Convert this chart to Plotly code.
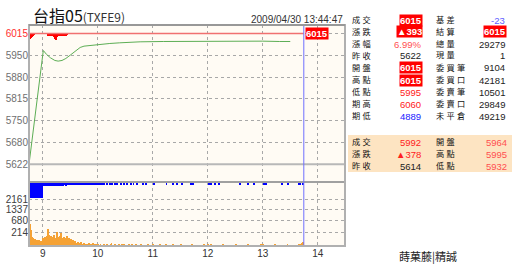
import numpy as np
import plotly.graph_objects as go

# ---------------- data ----------------
limit_price = 6015
prev_close = 5622
now_time = 13 + 44 / 60 + 47 / 3600  # 13:44:47

price_tick_labels = ["6015", "5950", "5880", "5815", "5750", "5680", "5622"]
vol_tick_labels = ["214", "680", "1337", "2161"]
x_tick_vals = [9, 10, 11, 12, 13, 14]
x_tick_labels = ["9", "10", "11", "12", "13", "14"]

# spot index line (hours, value)
green_time = [8.75, 9.01, 9.07, 9.14, 9.22, 9.28, 9.35, 9.42, 9.50, 9.59, 9.68, 9.75,
              9.85, 9.99, 10.1, 10.22, 10.4, 10.6, 10.77, 11.2, 11.86, 12.5, 13.0, 13.3, 13.5]
green_val = [5622, 5964, 5952, 5942, 5934, 5932, 5934, 5940, 5950, 5962, 5973, 5977,
             5979, 5980, 5982, 5985, 5987, 5989, 5990, 5991, 5992, 5993, 5992, 5991, 5991]

# futures minute lows below the limit price (minute index from 8:45, low)
red_minutes = [0, 1, 2, 3, 4, 5, 21, 22, 23, 24, 25, 26, 27, 28, 29, 30, 31, 32, 33, 34,
               35, 36, 37, 38, 39, 40, 41]
red_low = [5998, 5999, 6001, 6004, 6008, 6012, 6007, 6009, 6010, 6008, 6010, 6009, 6003,
           5998, 5995, 6000, 6005, 6008, 6007, 6009, 6008, 6010, 6009, 6008, 6010, 6009, 6011]

# per-minute volume from 8:45
volume = [
    2161, 520, 280, 110, 85, 60, 45, 70, 40, 55, 35, 60, 30, 45, 40,
    90, 70, 110, 60, 100, 130, 340, 160, 100, 140, 80, 120, 150, 90, 70, 120, 230, 110, 80, 130,
    210, 90, 70, 120, 60, 100, 140, 70, 50, 90, 45, 75, 40, 65, 35, 50,
    25, 15, 30, 12, 20, 14, 28, 18, 10, 22, 14, 18, 10, 16, 24, 10, 12, 18, 10, 20, 12, 9, 15, 10,
    12, 0, 9, 16, 0, 10, 0, 12, 8, 0, 15, 0, 9, 0, 12, 20, 0, 9, 0, 14,
    0, 10, 0, 18, 9, 0, 12, 0, 0, 15, 9, 0, 10, 0, 12, 0, 9, 16, 0, 0,
    10, 0, 12, 0, 0, 9, 0, 14, 0, 0, 10, 0, 9, 0, 0, 12, 0, 0, 9, 0,
    16, 0, 0, 10, 0, 9, 0, 0, 12, 0, 0, 0, 9, 0, 14, 0, 0, 10, 0, 0,
    9, 0, 12, 0, 0, 0, 10, 0, 9, 0, 0, 14, 0, 0, 9, 0, 0, 0, 11, 0,
    0, 9, 0, 12, 0, 0, 0, 9, 0, 0, 10, 0, 0, 0, 9, 0, 12, 0, 0, 10,
    14, 0, 9, 0, 12, 0, 0, 9, 0, 0, 10, 0, 0, 9, 0, 0, 0, 12, 0, 0,
    9, 0, 0, 0, 10, 0, 0, 9, 0, 0, 0, 12, 0, 0, 9, 0, 0, 0, 10, 0,
    0, 9, 0, 0, 12, 0, 0, 0, 9, 0, 0, 10, 0, 0, 0, 9, 0, 0, 12, 0,
    14, 0, 0, 9, 0, 0, 10, 0, 0, 0, 9, 0, 0, 12, 0, 0, 0, 9, 0, 0,
    10, 0, 0, 9, 0, 0, 0, 12, 0, 0, 9, 0, 0, 0, 10, 0, 0, 9, 0, 0,
    12, 0, 14, 20, 35, 0,
]

# blue hanging bars (minute index, depth)
blue_minutes = list(range(0, 51)) + [52, 53, 55, 56, 58, 60, 61, 63, 65, 66, 68, 70, 72, 73, 75, 77,
                                     80, 82, 85, 88, 91, 94, 96, 100, 104, 107, 111, 114, 118, 124,
                                     128, 136, 150, 157, 161, 167, 177, 179, 196, 199, 203, 207, 230,
                                     239, 245, 256, 259, 276, 283, 294, 296, 299]
blue_depth = ([100] * 15 +
              [24, 25, 24, 23, 24, 25, 24, 23, 22, 24, 23, 22, 22, 23, 22, 21, 22, 22, 21, 22,
               22, 21, 22, 20, 21, 22, 21, 20, 21, 20, 21, 20, 20, 21, 20, 20] +
              [18] * 16 + [16] * 36)

# right-side quote table
tbl_left_labels = ["成交", "漲跌", "漲幅", "昨收", "開盤", "高點", "低點", "期高", "期低"]
tbl_left_values = ["6015", "▲393", "6.99%", "5622", "6015", "6015", "5995", "6060", "4889"]
tbl_right_labels = ["基差", "結算", "總量", "現量", "委買筆", "委買口", "委賣筆", "委賣口", "未平倉"]
tbl_right_values = ["-23", "6015", "29279", "1", "9104", "42181", "10501", "29849", "49219"]

spot_labels_left = ["成交", "漲跌", "昨收"]
spot_values_left = ["5992", "▲378", "5614"]
spot_labels_right = ["開盤", "高點", "低點"]
spot_values_right = ["5964", "5995", "5932"]

# ---------------- styles ----------------
W, H = 512, 271
X0, X1 = 29, 345
Y_TOP, Y_MID, Y_BOT = 25, 182, 246


def px(x):
    return x / W


def py(y):
    return 1 - y / H


RED = "#FF0000"
BG = "#FFFBF4"
GRID = "#A8A8A8"
NUM_FONT = "Liberation Sans"
CJK_FONT = "Liberation Sans, Noto Sans CJK TC"
ROW = 12.0
CJK_SIZE = 8.2

minute_h = 1 / 60
vol_times = [8.75 + i * minute_h for i in range(len(volume))]

fig = go.Figure()

fig.add_trace(go.Scatter(x=green_time, y=green_val, mode="lines",
                         line=dict(color="#5DAE55", width=1), xaxis="x", yaxis="y",
                         hoverinfo="skip"))
fig.add_trace(go.Bar(x=[8.75 + m * minute_h for m in red_minutes],
                     y=[limit_price - v for v in red_low], base=red_low,
                     width=minute_h, marker=dict(color=RED, line=dict(width=0)),
                     xaxis="x", yaxis="y"))
fig.add_trace(go.Scatter(x=[8.75, now_time], y=[limit_price, limit_price], mode="lines",
                         line=dict(color="#F07070", width=1.5), xaxis="x", yaxis="y"))

fig.add_trace(go.Bar(x=vol_times, y=np.sqrt(volume), width=minute_h,
                     marker=dict(color="#F5A235", line=dict(width=0)),
                     xaxis="x2", yaxis="y2"))
fig.add_trace(go.Bar(x=[8.75 + m * minute_h for m in blue_minutes], y=blue_depth,
                     width=minute_h, marker=dict(color="#0000FF", line=dict(width=0)),
                     xaxis="x2", yaxis="y3"))

price_tick_vals = np.linspace(limit_price, prev_close, len(price_tick_labels))
price_tick_text = ['<span style="color:#FF3030">%s</span>' % price_tick_labels[0]] + \
    price_tick_labels[1:]

ppx = (limit_price - prev_close) / (164.3 - 33.5)
p_top = limit_price + (33.5 - Y_TOP) * ppx
p_bot = prev_close - (Y_MID - 164.3) * ppx

xdom = [px(X0), px(X1)]
xrange_ = [8.75, 8.75 + (X1 - X0) / 55]

axis_common = dict(showgrid=True, gridcolor=GRID, griddash="dot", gridwidth=1,
                   zeroline=False, showline=False, ticks="")

fig.update_layout(
    width=W, height=H, margin=dict(l=0, r=0, t=0, b=0),
    paper_bgcolor="white", plot_bgcolor=BG, showlegend=False, bargap=0, barmode="overlay",
    xaxis=dict(domain=xdom, range=xrange_, anchor="y", tickvals=x_tick_vals,
               showticklabels=False, **axis_common),
    yaxis=dict(domain=[py(Y_MID), py(Y_TOP)], range=[p_bot, p_top], anchor="x",
               tickvals=price_tick_vals, ticktext=price_tick_text,
               tickfont=dict(family=NUM_FONT, size=10, color="#707070"), **axis_common),
    xaxis2=dict(domain=xdom, range=xrange_, anchor="y2", tickvals=x_tick_vals,
                ticktext=x_tick_labels,
                tickfont=dict(family=NUM_FONT, size=10, color="#333333"), **axis_common),
    yaxis2=dict(domain=[py(Y_BOT), py(Y_MID)], range=[1.94, 63], anchor="x2",
                tickvals=[np.sqrt(float(v)) for v in vol_tick_labels], ticktext=vol_tick_labels,
                tickfont=dict(family=NUM_FONT, size=10, color="#404040"), **axis_common),
    yaxis3=dict(domain=[py(Y_BOT), py(Y_MID)], range=[400, 0], anchor="x2", overlaying="y2",
                visible=False),
)

shapes = []
shapes.append(dict(type="line", xref="x", yref="y", x0=xrange_[0], x1=xrange_[1],
                   y0=prev_close, y1=prev_close, line=dict(color="#B8B8B8", width=2)))
shapes.append(dict(type="line", xref="paper", yref="paper", x0=px(X0), x1=px(X1),
                   y0=py(Y_MID), y1=py(Y_MID), line=dict(color="#A0A0A0", width=2)))
shapes.append(dict(type="line", xref="x", yref="paper", x0=now_time, x1=now_time,
                   y0=py(Y_BOT), y1=py(Y_TOP), line=dict(color="#7070FF", width=1)))
shapes.append(dict(type="rect", xref="paper", yref="paper", x0=px(X0), x1=px(X1),
                   y0=py(Y_BOT), y1=py(Y_TOP), line=dict(color="#B0B0B0", width=2)))
shapes.append(dict(type="line", xref="paper", yref="paper", x0=px(X0), x1=px(X1),
                   y0=py(Y_TOP), y1=py(Y_TOP), line=dict(color="#808080", width=1)))
shapes.append(dict(type="rect", xref="paper", yref="paper", x0=px(348), x1=px(512),
                   y0=py(172), y1=py(135), line=dict(width=0), fillcolor="#FDE4C2",
                   layer="below"))
fig.update_layout(shapes=shapes)

ann = []


def text(x, y, s, size, color="#222222", family=NUM_FONT, xanchor="left", bg=None, **kw):
    d = dict(x=px(x), y=py(y), xref="paper", yref="paper", text=s, showarrow=False,
             xanchor=xanchor, yanchor="middle", font=dict(family=family, size=size, color=color))
    if bg:
        d.update(bgcolor=bg, borderpad=0)
    d.update(kw)
    ann.append(d)


def spaced(s):
    return " ".join(list(s))


# title
text(31, 15, '台指05<span style="font-size:12px;color:#333">(TXFE9)</span>', 16,
     color="#111111", family="Noto Sans CJK TC")
text(345, 19.5, "2009/04/30 13:44:47", 10, color="#333333", xanchor="right")
ann.append(dict(x=now_time, y=limit_price, xref="x", yref="y", text="<b>6015</b>",
                showarrow=False, xanchor="left", yanchor="middle", xshift=1,
                font=dict(family=NUM_FONT, size=9.5, color="white"), bgcolor=RED, borderpad=0))

left_style = ["box", "box", "lred", "black", "box", "box", "red", "red", "blue"]
right_style = ["lblue", "box", "black", "black", "black", "black", "black", "black", "black"]
colors = {"lred": "#FF5050", "red": "#FF2020", "black": "#222222", "blue": "#2020FF",
          "lblue": "#6060FF"}

n = len(tbl_left_labels)
for i in range(n):
    y = 20 + ROW * i
    text(350, y, spaced(tbl_left_labels[i]), CJK_SIZE, family=CJK_FONT, color="#111111")
    text(434, y, spaced(tbl_right_labels[i]), CJK_SIZE, family=CJK_FONT, color="#111111")
    for (xv, val, st) in [(423, tbl_left_values[i], left_style[i]),
                          (507, tbl_right_values[i], right_style[i])]:
        if st == "box":
            text(xv, y, "<b>%s</b>" % val, 9.5, color="white", xanchor="right", bg=RED)
        else:
            text(xv, y, val, 9.5, color=colors[st], xanchor="right")

spot_left_colors = ["#FF2020", "#FF2020", "#222222"]
for i in range(3):
    y = 142 + ROW * i
    text(350, y, spaced(spot_labels_left[i]), CJK_SIZE, family=CJK_FONT, color="#111111")
    text(434, y, spaced(spot_labels_right[i]), CJK_SIZE, family=CJK_FONT, color="#111111")
    text(423, y, spot_values_left[i], 9.5, color=spot_left_colors[i], xanchor="right")
    text(509, y, spot_values_right[i], 9.5, color="#FF5050", xanchor="right")

text(428, 256, "蒔菓藤|精誠", 11, family="Noto Sans CJK TC", color="#222222", xanchor="center")

fig.update_layout(annotations=ann)
fig.write_html("out.html")
